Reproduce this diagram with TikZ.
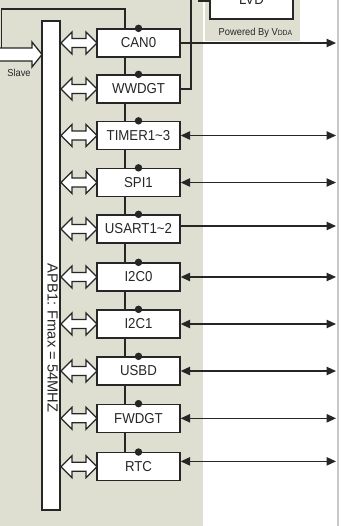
\documentclass[tikz,border=0pt]{standalone}
\usepackage{fontspec}
\setmainfont{Liberation Sans}
\newfontfamily\condfont[FakeStretch=0.92]{Liberation Sans}
\usetikzlibrary{arrows.meta,calc}
\definecolor{bgg}{RGB}{222,223,208}
\definecolor{ln}{RGB}{38,38,38}
\definecolor{edgeg}{RGB}{200,200,200}
\tikzset{
  blk/.style={draw=ln, line width=1pt, fill=white, minimum width=62.25pt, minimum height=21pt, inner sep=0pt,
    font=\condfont\fontsize{10.8}{12}\selectfont, text=ln},
  wire/.style={draw=ln, line width=0.95pt},
  tipa/.tip={Triangle[length=7pt,width=6.2pt]},
  dblarrow/.pic={\draw[ln, line width=0.95pt, fill=white] (0,0) -- (11,-11) -- (11,-4.5) -- (25,-4.5) -- (25,-11) -- (36,0) -- (25,11) -- (25,4.5) -- (11,4.5) -- (11,11) -- cycle;}
}
\begin{document}
\begin{tikzpicture}[x=0.75pt,y=-0.75pt]
\useasboundingbox (0,0) rectangle (354,526);
\clip (0,0) rectangle (354,526);
\fill[white] (0,0) rectangle (354,526);
\fill[bgg] (0,0) rectangle (203,526);
\fill[bgg] (205,0) rectangle (300,41);
\fill[edgeg] (336.5,0) rectangle (338.5,526);
\coordinate (rx) at (336,0);
% LVD
\node[blk, minimum width=62.25pt, minimum height=28.5pt] (lvd) at (251.5,0) {LVD};
\node[font=\condfont\fontsize{7.6}{9}\selectfont, text=ln, inner sep=0pt] (pwr) at (255.5,33) {Powered By V{\fontsize{5.6}{6}\selectfont DDA}};
% bus bar
\node[draw=ln, line width=1pt, fill=white, minimum width=13.5pt, minimum height=366.75pt, inner sep=0pt] (bus) at (51,265.5) {};
\node[rotate=-90, font=\fontsize{11}{12}\selectfont, text=ln, inner sep=0pt] (buslbl) at (52.5,338) {APB1: Fmax = 54MHZ};
% slave arrow
\draw[ln, line width=0.95pt, fill=white] (-2,48) -- (32,48) -- (32,42) -- (42,54.5) -- (32,67) -- (32,61) -- (-2,61);
\node[font=\condfont\fontsize{7.6}{9}\selectfont, text=ln, inner sep=0pt] (slave) at (19,73) {Slave};
\coordinate (stop) at (1.5,48);
\coordinate (c1) at (1.5,9);
\coordinate (c2) at (125,9);
\coordinate (busend) at (125,452.7);
\draw[wire] (stop) -- (c1) -- (c2) -- (busend);
% blocks
\foreach \nm/\txt/\cy in {can/CAN0/43, wwdgt/WWDGT/89, timer/TIMER1\textasciitilde 3/135.5, spi/SPI1/182.5, usart/USART1\textasciitilde 2/229, iicz/I2C0/277, iico/I2C1/324, usbd/USBD/371, fwdgt/FWDGT/418.3, rtc/RTC/466.7}{
  \node[blk] (\nm) at (138.5,\cy) {\txt};
  \pic at (61,\cy) {dblarrow};
  \fill[ln] (\nm.north) circle[radius=2.8pt];
}
% WWDGT to LVD
\coordinate (wv) at (191,-6);
\coordinate (stub) at (198,1);
\draw[wire] (wwdgt.east) -| (wv);
\draw[wire] (stub) -- (stub -| lvd.west);
% right arrows
\draw[wire, -tipa] (can.east) -- (can.east -| rx);
\draw[wire, tipa-tipa] (timer.east) -- (timer.east -| rx);
\draw[wire, tipa-tipa] (spi.east) -- (spi.east -| rx);
\draw[wire, -tipa] ([yshift=2.25pt]usart.east) -- ([yshift=2.25pt]usart.east -| rx);
\draw[wire, tipa-tipa] (iicz.east) -- (iicz.east -| rx);
\draw[wire, tipa-tipa] (iico.east) -- (iico.east -| rx);
\draw[wire, tipa-tipa] (usbd.east) -- (usbd.east -| rx);
\draw[wire, tipa-tipa] (fwdgt.east) -- (fwdgt.east -| rx);
\draw[wire, tipa-tipa] ([yshift=4pt]rtc.east) -- ([yshift=4pt]rtc.east -| rx);
\end{tikzpicture}
\end{document}
